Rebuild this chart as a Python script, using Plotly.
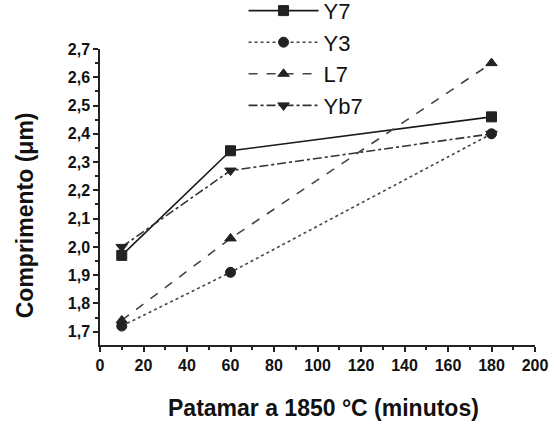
import plotly.graph_objects as go

x_min = [10, 60, 180]
series_names = ["Y7", "Y3", "L7", "Yb7"]
y7 = [1.97, 2.34, 2.46]
y3 = [1.72, 1.91, 2.40]
l7 = [1.74, 2.03, 2.65]
yb7 = [2.00, 2.27, 2.40]

x_ticks = [0, 20, 40, 60, 80, 100, 120, 140, 160, 180, 200]
y_ticks = [1.7, 1.8, 1.9, 2.0, 2.1, 2.2, 2.3, 2.4, 2.5, 2.6, 2.7]

styles = [
    dict(dash="solid", symbol="square", color="#1a1a1a"),
    dict(dash="dot", symbol="circle", color="#444444"),
    dict(dash="dash", symbol="triangle-up", color="#444444"),
    dict(dash="dashdot", symbol="triangle-down", color="#333333"),
]

fig = go.Figure()
for name, ys, st in zip(series_names, [y7, y3, l7, yb7], styles):
    fig.add_trace(go.Scatter(
        x=x_min, y=ys, name=name, mode="lines+markers",
        line=dict(color=st["color"], width=1.6, dash=st["dash"]),
        marker=dict(symbol=st["symbol"], size=10, color="#222222",
                    line=dict(color="#222222", width=1)),
    ))

font_main = "Liberation Sans, Arial, sans-serif"
fig.update_layout(
    width=554, height=427,
    margin=dict(l=100, r=19, t=49, b=82, autoexpand=False),
    paper_bgcolor="white", plot_bgcolor="white",
    separators=",.",
    font=dict(family=font_main, color="#111111"),
    showlegend=True,
    legend=dict(
        x=0.33, y=1.2, xanchor="left", yanchor="top",
        font=dict(size=22, family=font_main, color="#111111"),
        bgcolor="rgba(0,0,0,0)", tracegroupgap=0,
        itemwidth=70,
    ),
    annotations=[
        dict(text="<b>Patamar a 1850 °C (minutos)</b>", xref="paper", yref="paper",
             x=0.513, y=-0.213, xanchor="center", yanchor="middle", showarrow=False,
             font=dict(size=23, family=font_main, color="#111111")),
        dict(text="<b>Comprimento (μm)</b>", xref="paper", yref="paper",
             x=-0.172, y=0.439, xanchor="center", yanchor="middle", showarrow=False,
             textangle=-90,
             font=dict(size=23, family=font_main, color="#111111")),
    ],
)
fig.update_xaxes(
    range=[0, 200], tickvals=x_ticks, ticktext=["<b>%d</b>" % v for v in x_ticks],
    showgrid=False, zeroline=False, showline=True, linecolor="#222222", linewidth=1.5,
    ticks="outside", ticklen=5, tickwidth=1.5, tickcolor="#222222",
    minor=dict(dtick=10, ticks="outside", ticklen=3, tickcolor="#222222", tickwidth=1.5),
    tickfont=dict(size=16, family=font_main, color="#111111"),
)
fig.update_yaxes(
    range=[1.653, 2.7], tickvals=y_ticks,
    ticktext=["<b>%s</b>" % ("%.1f" % v).replace(".", ",") for v in y_ticks],
    showgrid=False, zeroline=False, showline=True, linecolor="#222222", linewidth=1.5,
    ticks="outside", ticklen=5, tickwidth=1.5, tickcolor="#222222",
    minor=dict(dtick=0.05, tick0=1.7, ticks="outside", ticklen=3, tickcolor="#222222", tickwidth=1.5),
    tickfont=dict(size=16, family=font_main, color="#111111"),
)

fig.write_html("out.html")
